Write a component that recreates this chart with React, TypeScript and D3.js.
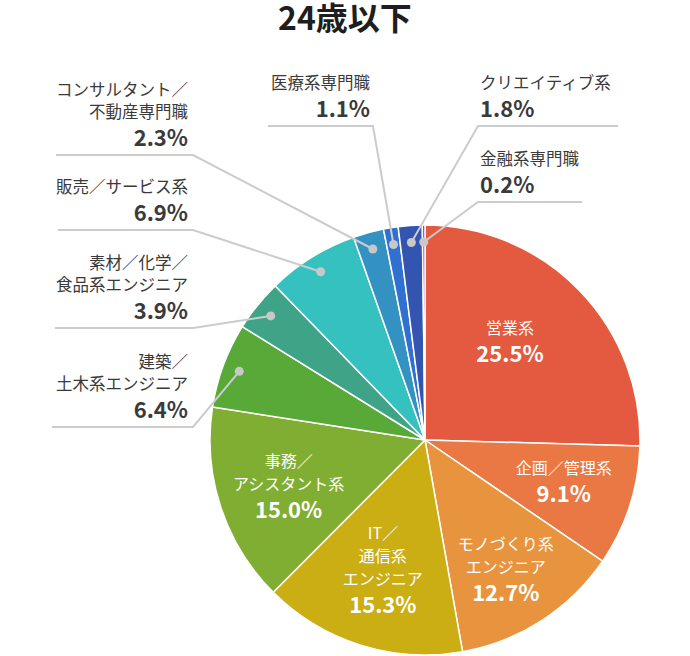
import React from "react";
import * as d3 from "d3";

const title = "24歳以下";
const categories = [
  "営業系",
  "企画／管理系",
  "モノづくり系エンジニア",
  "IT／通信系エンジニア",
  "事務／アシスタント系",
  "建築／土木系エンジニア",
  "素材／化学／食品系エンジニア",
  "販売／サービス系",
  "コンサルタント／不動産専門職",
  "医療系専門職",
  "クリエイティブ系",
  "金融系専門職",
];
const values = [25.5, 9.1, 12.7, 15.3, 15.0, 6.4, 3.9, 6.9, 2.3, 1.1, 1.8, 0.2];
const labelLines = [
  ["営業系"],
  ["企画／管理系"],
  ["モノづくり系", "エンジニア"],
  ["IT／", "通信系", "エンジニア"],
  ["事務／", "アシスタント系"],
  ["建築／", "土木系エンジニア"],
  ["素材／化学／", "食品系エンジニア"],
  ["販売／サービス系"],
  ["コンサルタント／", "不動産専門職"],
  ["医療系専門職"],
  ["クリエイティブ系"],
  ["金融系専門職"],
];
const colors = [
  "#e45a40", "#ea7844", "#e8943e", "#cbad14", "#80ae33", "#58a937",
  "#3fa387", "#34c1c0", "#3492c2", "#2f70d0", "#3355b0", "#9b30be",
];

// layout: inside labels [radius, angle offset deg]
const inside: Record<number, [number, number]> = {
  0: [130, -5],
  1: [145, -1],
  2: [153, 1],
  3: [137, 0.5],
  4: [144, -0.6],
};
type Out = { anchor: "start" | "end"; tx: number; pctY: number; ux0: number; ux1: number; join: "left" | "right" };
const outside: Record<number, Out> = {
  5: { anchor: "end", tx: 188, pctY: 418, ux0: 52, ux1: 193, join: "right" },
  6: { anchor: "end", tx: 188, pctY: 319, ux0: 55, ux1: 193, join: "right" },
  7: { anchor: "end", tx: 188, pctY: 221, ux0: 58, ux1: 193, join: "right" },
  8: { anchor: "end", tx: 188, pctY: 146, ux0: 56, ux1: 193, join: "right" },
  9: { anchor: "end", tx: 370, pctY: 117, ux0: 268, ux1: 373, join: "right" },
  10: { anchor: "start", tx: 480, pctY: 117, ux0: 478, ux1: 618, join: "left" },
  11: { anchor: "start", tx: 480, pctY: 193, ux0: 478, ux1: 582, join: "left" },
};

const W = 690;
const H = 656;
const cx = 425;
const cy = 440;
const R = 215;
const FONT = "'Noto Sans CJK JP', 'Noto Sans', sans-serif";

export default function App() {
  const pie = d3.pie<number>().sort(null).value((d) => d);
  const arcs = pie(values);
  const arc = d3.arc<d3.PieArcDatum<number>>().innerRadius(0).outerRadius(R);
  const pt = (a: number, r: number) => [cx + r * Math.sin(a), cy - r * Math.cos(a)];

  return (
    <svg width={W} height={H} style={{ display: "block", position: "absolute", left: 0, top: 0 }} fontFamily={FONT}>
      <text x={345} y={30} textAnchor="middle" fontSize={32} fontWeight="bold" fill="#1e1e1e">{title}</text>
      <g transform={`translate(${cx},${cy})`}>
        {arcs.map((a, i) => (
          <path key={i} d={arc(a) || ""} fill={colors[i]} stroke="#fff" strokeWidth={1.5} strokeLinejoin="round" />
        ))}
      </g>
      {arcs.map((a, i) => {
        const mid = (a.startAngle + a.endAngle) / 2;
        if (inside[i]) {
          const [r, off] = inside[i];
          const [x, y] = pt(mid + (off * Math.PI) / 180, r);
          const lines = labelLines[i];
          const n = lines.length;
          const blockH = (n - 1) * 23 + 28;
          const top = y - blockH / 2 + 6;
          return (
            <g key={i} fill="#fff" textAnchor="middle">
              {lines.map((l, k) => (
                <text key={k} x={x} y={top + k * 23} fontSize={16}>{l}</text>
              ))}
              <text x={x} y={top + (n - 1) * 23 + 28} fontSize={22} fontWeight="bold">{values[i].toFixed(1)}%</text>
            </g>
          );
        }
        const o = outside[i];
        const [dx, dy] = pt(mid, 198);
        const lines = labelLines[i];
        const n = lines.length;
        const uy = o.pctY + 9;
        const jx = o.join === "right" ? o.ux1 : o.ux0;
        return (
          <g key={i}>
            <polyline points={`${o.join === "right" ? o.ux0 : o.ux1},${uy} ${jx},${uy} ${dx},${dy}`} fill="none" stroke="#cccccc" strokeWidth={2} />
            <circle cx={dx} cy={dy} r={4.5} fill="#c8c8c8" />
            <g textAnchor={o.anchor} fill="#3a3a3a">
              {lines.map((l, k) => (
                <text key={k} x={o.tx} y={o.pctY - 28 - (n - 1 - k) * 22} fontSize={16.5}>{l}</text>
              ))}
              <text x={o.tx} y={o.pctY} fontSize={22} fontWeight="bold">{values[i].toFixed(1)}%</text>
            </g>
          </g>
        );
      })}
    </svg>
  );
}
